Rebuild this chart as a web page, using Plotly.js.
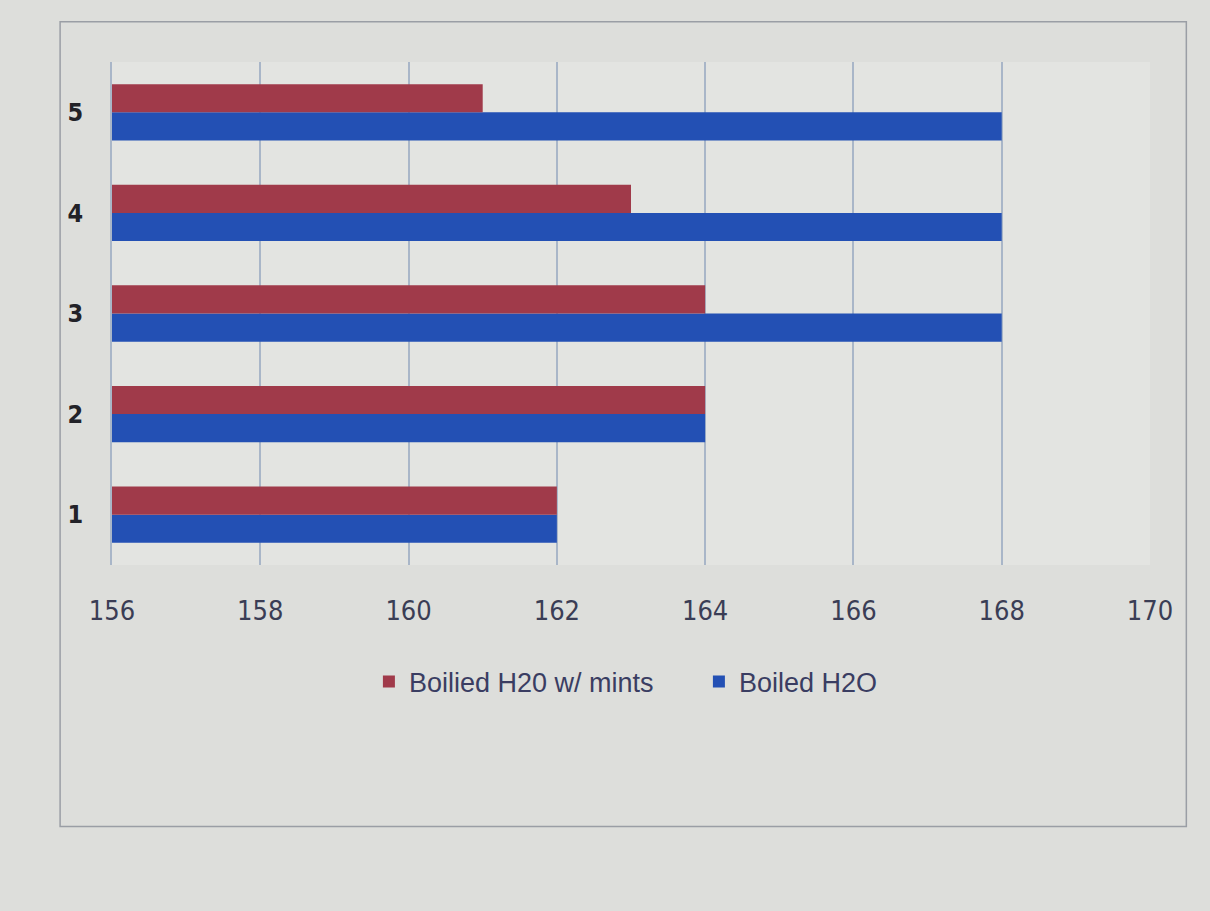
<!DOCTYPE html>
<html>
<head>
<meta charset="utf-8">
<script src="https://cdn.plot.ly/plotly-3.0.1.min.js"></script>
<style>html,body{margin:0;padding:0;background:#dcdcd8;}#chart{width:1210px;height:911px;}</style>
</head>
<body>
<div id="chart"></div>
<script>
const categories = ["1", "2", "3", "4", "5"];
const mintsValues = [162, 164, 164, 163, 161];
const waterValues = [162, 164, 168, 168, 168];
const seriesNames = ["Boilied H20 w/ mints", "Boiled H2O"];
const xTicks = [156, 158, 160, 162, 164, 166, 168, 170];

const base = 156;
const traces = [
  {
    type: "bar", orientation: "h", name: seriesNames[1],
    y: categories, x: waterValues.map(v => v - base), base: base,
    marker: {color: "#2350b4"}, legendrank: 2
  },
  {
    type: "bar", orientation: "h", name: seriesNames[0],
    y: categories, x: mintsValues.map(v => v - base), base: base,
    marker: {color: "#a03a4a"}, legendrank: 1
  }
];

const layout = {
  width: 1210, height: 911,
  paper_bgcolor: "#dddedb",
  plot_bgcolor: "#e3e4e1",
  margin: {l: 112, r: 60, t: 62, b: 346},
  barmode: "group", bargap: 0.44, bargroupgap: 0,
  font: {family: "Liberation Sans Narrow, DejaVu Sans Condensed, sans-serif", color: "#2e3140"},
  xaxis: {
    range: [156, 170], tickvals: xTicks, ticktext: xTicks.map(String),
    showgrid: true, gridcolor: "#a9b6c8", gridwidth: 1.5, zeroline: false,
    tickfont: {size: 27, color: "#3a3d55"}, ticks: "", ticklabelstandoff: 27
  },
  yaxis: {
    showgrid: false, showline: true, linecolor: "#a9b6c8", linewidth: 1.5,
    tickfont: {size: 25, color: "#222228", weight: "bold"}, ticks: "", ticklabelstandoff: 22
  },
  legend: {
    orientation: "h", x: 0.2475, xanchor: "left", y: -0.184, yanchor: "top",
    font: {size: 27, color: "#3a3d62", family: "Liberation Sans, Open Sans, sans-serif"},
    bgcolor: "rgba(0,0,0,0)", itemwidth: 30, entrywidth: 285
  },
  shapes: [
    {type: "rect", xref: "paper", yref: "paper", x0: -0.05, x1: 1.035, y0: -0.52, y1: 1.08,
     line: {color: "#9a9ea5", width: 1.5}, fillcolor: "rgba(0,0,0,0)", layer: "below"}
  ],
  showlegend: true
};

Plotly.newPlot("chart", traces, layout, {displayModeBar: false});
</script>
</body>
</html>
